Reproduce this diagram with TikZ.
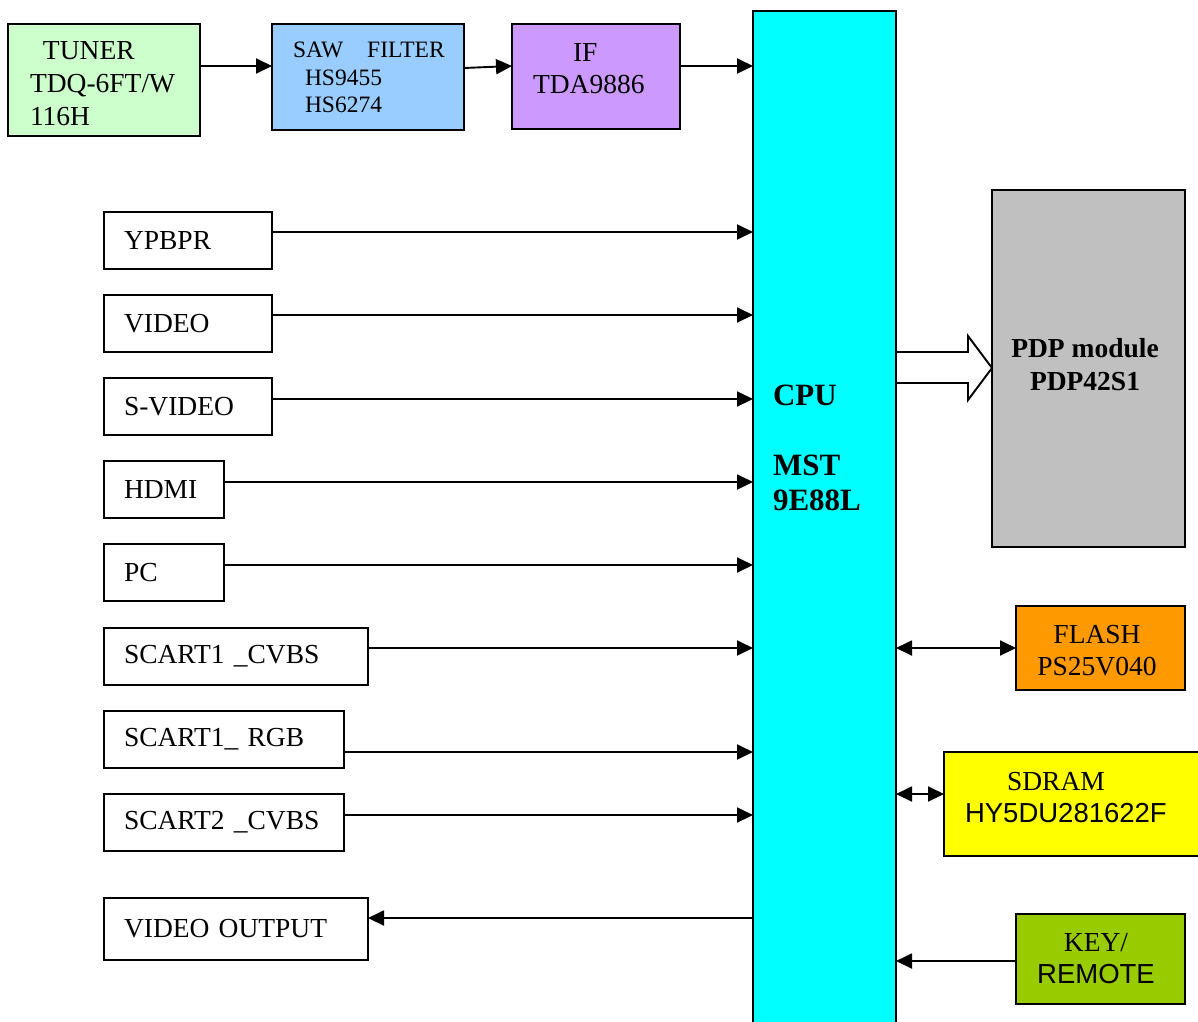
\documentclass[tikz,border=0pt]{standalone}
\usepackage{fontspec}
\setmainfont{Liberation Serif}
\setsansfont{Liberation Sans}
\usetikzlibrary{arrows.meta}
\definecolor{ctuner}{HTML}{CCFFCC}
\definecolor{csaw}{HTML}{99CCFF}
\definecolor{cif}{HTML}{CC99FF}
\definecolor{ccpu}{HTML}{00FFFF}
\definecolor{cpdp}{HTML}{C0C0C0}
\definecolor{cflash}{HTML}{FF9900}
\definecolor{csdram}{HTML}{FFFF00}
\definecolor{ckey}{HTML}{99CC00}
\newcommand\myfontA{\fontsize{27.5}{33}\selectfont}
\newcommand\myfontS{\fontsize{23.5}{27.5}\selectfont}
\newcommand\myfontI{\fontsize{27.5}{32}\selectfont}
\newcommand\myfontB{\fontsize{31}{35}\selectfont\bfseries}
\newcommand\myfontP{\fontsize{27.5}{33}\selectfont\bfseries}
\begin{document}
\begin{tikzpicture}[x=1pt,y=-1pt,
  box/.style={draw, line width=1.9pt, anchor=north west, inner sep=0pt, outer sep=0pt},
  inbox/.style={box, inner xsep=20pt, align=left, font=\myfontA},
  txt/.style={inner sep=0pt, outer sep=0pt, anchor=north west, align=left},
  arr/.style={line width=1.9pt, -{Triangle[length=16pt,width=15pt]}},
  dbl/.style={line width=1.9pt, {Triangle[length=16pt,width=15pt]}-{Triangle[length=16pt,width=15pt]}}]
\useasboundingbox (0,0) rectangle (1198,1021);

% top chain
\node[box, fill=ctuner, minimum width=192pt, minimum height=112pt] (tuner) at (8,24) {};
\node[txt, font=\myfontA] (ttuner) at (30,41) {\hspace*{13pt}TUNER\\TDQ-6FT/W\\116H};
\node[box, fill=csaw, minimum width=192pt, minimum height=106pt] (saw) at (272,24) {};
\node[txt, font=\myfontS] (tsaw) at (293,42) {SAW\hspace*{18pt} FILTER\\\hspace*{12pt}HS9455\\\hspace*{12pt}HS6274};
\node[box, fill=cif, minimum width=168pt, minimum height=105pt] (if) at (512,24) {};
\node[txt, font=\myfontI] (tif) at (533,43) {\hspace*{40pt}IF\\TDA9886};

% CPU
\node[box, fill=ccpu, minimum width=143pt, minimum height=1040pt] (cpu) at (753,11) {};
\node[txt, font=\myfontB] (tcpu) at (773,385) {CPU\\[35pt]MST\\9E88L};

% PDP
\node[box, fill=cpdp, minimum width=193pt, minimum height=357pt] (pdp) at (992,190) {};
\node[txt, anchor=north, align=center, font=\myfontP] (tpdp) at (1085,338) {PDP module\\PDP42S1};

% right blocks
\node[box, fill=cflash, minimum width=169pt, minimum height=84pt] (flash) at (1016,606) {};
\node[txt, anchor=north, align=center, font=\myfontI] (tflash) at (1097,625) {FLASH\\PS25V040};
\node[box, fill=csdram, minimum width=266pt, minimum height=104pt] (sdram) at (944,752) {};
\node[txt, font=\myfontI] (tsdram) at (965,772) {\hspace*{42pt}SDRAM\\{\sffamily HY5DU281622F}};
\node[box, fill=ckey, minimum width=169pt, minimum height=90pt] (key) at (1016,914) {};
\node[txt, anchor=north, align=center, font=\myfontI] (tkey) at (1096,933) {KEY/\\{\sffamily REMOTE}};

% left inputs
\node[inbox, text width=128pt, minimum height=57pt] (ypbpr) at (104,212) {YPBPR};
\node[inbox, text width=128pt, minimum height=57pt] (video) at (104,295) {VIDEO};
\node[inbox, text width=128pt, minimum height=57pt] (svideo) at (104,378) {S-VIDEO};
\node[inbox, text width=80pt, minimum height=57pt] (hdmi) at (104,461) {HDMI};
\node[inbox, text width=80pt, minimum height=57pt] (pc) at (104,544) {PC};
\node[inbox, text width=224pt, minimum height=57pt] (sc1c) at (104,628) {SCART1 \_CVBS};
\node[inbox, text width=200pt, minimum height=57pt] (sc1r) at (104,711) {SCART1\_ RGB};
\node[inbox, text width=200pt, minimum height=57pt] (sc2c) at (104,794) {SCART2 \_CVBS};
\node[inbox, text width=224pt, minimum height=62pt] (vout) at (104,898) {VIDEO OUTPUT};

% row coordinates
\coordinate (r0) at (0,66);
\coordinate (r0b) at (0,68);
\coordinate (r1) at (0,232);
\coordinate (r2) at (0,315);
\coordinate (r3) at (0,399);
\coordinate (r4) at (0,482);
\coordinate (r5) at (0,565);
\coordinate (r6) at (0,648);
\coordinate (r7) at (0,752);
\coordinate (r8) at (0,815);
\coordinate (r9) at (0,918);
\coordinate (rs) at (0,794);
\coordinate (rk) at (0,961);

% connectors
\draw[arr] (tuner.east |- r0) -- (saw.west |- r0);
\draw[arr] (saw.east |- r0b) -- (if.west |- r0);
\draw[arr] (if.east |- r0) -- (cpu.west |- r0);
\draw[arr] (ypbpr.east |- r1) -- (cpu.west |- r1);
\draw[arr] (video.east |- r2) -- (cpu.west |- r2);
\draw[arr] (svideo.east |- r3) -- (cpu.west |- r3);
\draw[arr] (hdmi.east |- r4) -- (cpu.west |- r4);
\draw[arr] (pc.east |- r5) -- (cpu.west |- r5);
\draw[arr] (sc1c.east |- r6) -- (cpu.west |- r6);
\draw[arr] (sc1r.east |- r7) -- (cpu.west |- r7);
\draw[arr] (sc2c.east |- r8) -- (cpu.west |- r8);
\draw[arr] (cpu.west |- r9) -- (vout.east |- r9);
\draw[dbl] (cpu.east |- r6) -- (flash.west |- r6);
\draw[dbl] (cpu.east |- rs) -- (sdram.west |- rs);
\draw[arr] (key.west |- rk) -- (cpu.east |- rk);

% hollow arrow to PDP
\draw[line width=1.9pt, fill=white, line join=miter]
  (897,352) -- (968,352) -- (968,336) -- (992,368) -- (968,400) -- (968,383) -- (897,383);
\end{tikzpicture}
\end{document}
